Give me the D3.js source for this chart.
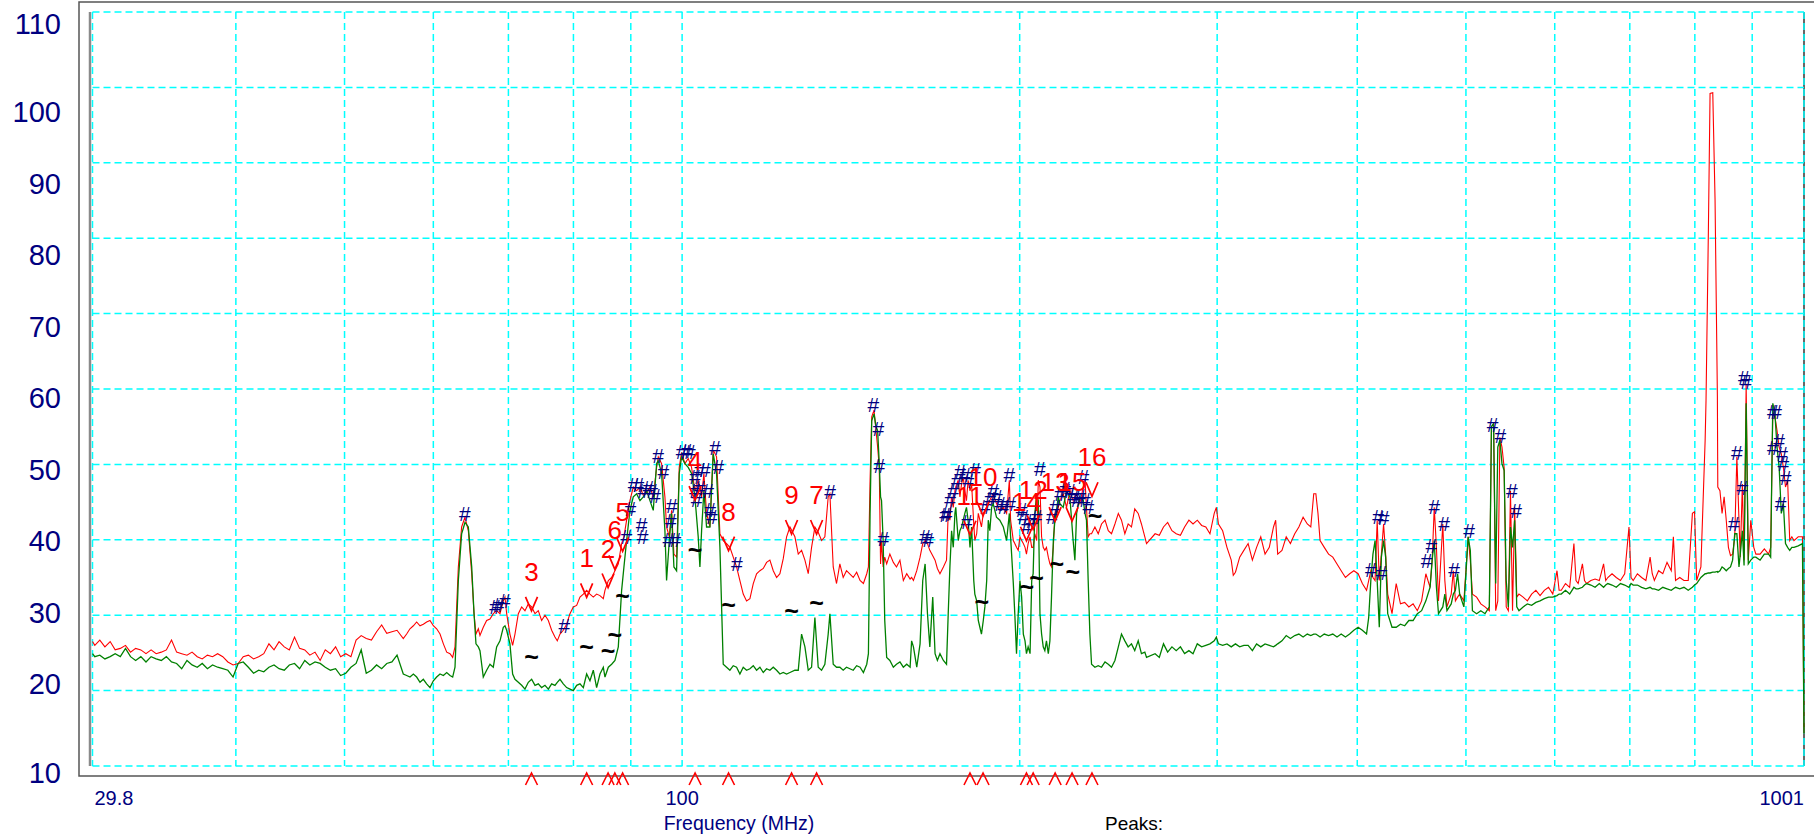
<!DOCTYPE html>
<html lang="en">
<head>
<meta charset="UTF-8">
<title>Emission scan</title>
<script src="https://d3js.org/d3.v7.min.js"></script>
<style>
  body { margin: 0; background: #fff; }
  svg { display: block; font-family: Arial, 'Liberation Sans', sans-serif; }
</style>
</head>
<body>
<script>
// ---- trace data: frequency (MHz), peak level (red) and quasi-peak level (green), dBuV
// 29.8 - 56 MHz
const freqA = [29.8,29.94,30.25,30.57,30.9,31.22,31.55,31.89,32.22,32.56,
  32.91,33.26,33.61,33.96,34.32,34.68,35.05,35.42,35.79,36.18,
  36.56,36.95,37.33,37.73,38.13,38.53,38.94,39.35,39.77,40.19,
  40.61,41.04,41.48,41.92,42.36,42.81,43.26,43.71,44.18,44.64,
  45.12,45.59,46.08,46.56,47.06,47.56,48.06,48.57,49.09,49.6,
  50.13,50.66,51.2,51.74,52.28,52.84,53.4,53.96,54.53,55.11,55.69];
const peakA = [26.5,26.0,26.7,25.8,26.5,25.4,25.6,26.0,25.1,25.6,
  25.4,24.9,25.4,24.9,25.1,25.4,26.7,25.1,24.9,24.7,
  25.1,24.5,24.2,24.7,24.5,24.9,24.5,23.8,23.4,23.6,
  24.5,24.7,24.2,24.5,24.9,26.2,25.4,26.5,25.8,25.4,
  27.1,25.6,25.4,24.7,25.1,24.0,25.4,24.9,25.8,24.5,
  24.9,24.5,26.7,27.3,26.9,26.7,27.8,28.7,27.6,27.8,28.0];
const qpA = [24.9,24.5,24.7,24.2,24.5,24.9,24.5,25.6,24.5,24.0,
  24.5,23.8,24.5,24.2,24.0,24.5,23.8,23.6,22.9,24.0,
  23.4,23.1,23.6,22.9,23.4,23.1,22.9,22.7,21.8,23.6,
  23.8,23.1,22.3,22.7,22.5,23.1,23.4,22.9,22.7,23.4,
  23.6,22.9,24.0,23.4,23.8,23.6,23.1,22.7,22.9,22.0,
  22.3,23.1,23.6,25.4,22.3,22.7,23.4,22.9,23.6,23.8,24.7];

// 56 - 141 MHz
const freqB = [56.41,56.8,57.19,57.59,57.98,58.38,58.78,59.18,59.59,60.0,
  60.41,60.83,61.25,61.67,62.09,62.43,62.73,63.16,63.59,64.03,
  64.47,64.92,65.23,65.49,65.81,66.03,66.48,66.94,67.4,67.86,
  68.33,68.8,69.27,69.51,69.75,70.22,70.61,70.95,71.44,71.93,
  72.42,72.92,73.42,73.93,74.43,74.94,75.46,75.98,76.5,77.02,
  77.39,77.82,78.35,78.89,79.43,79.98,80.53,81.08,81.64,82.2,
  82.76,83.33,83.9,84.48,85.06,85.35,85.94,86.53,87.12,87.72,
  88.32,88.74,89.23,89.84,90.46,91.08,91.71,92.34,92.97,93.61,
  94.25,94.9,95.22,95.88,96.53,96.86,97.4,97.86,98.33,98.87,
  99.41,99.89,100.57,101.26,101.96,102.66,103.36,103.72,104.08,104.57,
  105.15,105.87,106.6,107.33,108.07,108.81,109.56,110.31,111.07,111.83,
  112.6,113.37,114.15,114.94,115.73,116.52,117.32,118.13,118.94,119.75,
  120.58,121.41,122.24,123.08,123.93,124.78,126.06,126.93,127.8,128.68,
  129.56,130.45,131.34,132.24,133.15,134.06,134.98,135.45,136.38,137.31,
  138.25,139.2,140.15];
const peakB = [26.9,27.5,28.2,28.6,29.1,28.6,28.8,29.1,29.3,28.6,
  28.2,27.5,26.2,25.1,24.9,24.4,25.8,36.4,41.7,43.0,
  41.2,35.5,30.2,27.5,28.2,27.3,28.4,29.3,29.5,30.2,
  30.6,30.2,31.9,32.4,30.2,27.5,26.0,27.5,30.2,31.1,
  30.6,31.5,31.1,30.2,30.6,29.3,30.0,29.3,28.0,27.1,
  26.6,27.5,28.0,28.8,30.2,31.1,31.3,32.4,32.8,33.3,
  32.8,32.4,32.8,32.6,32.2,33.3,34.6,35.0,35.9,36.8,
  39.5,40.4,42.6,45.2,47.0,46.5,47.0,45.9,46.3,47.0,
  45.7,49.6,51.0,50.1,45.7,41.7,40.4,43.9,38.1,37.7,
  49.6,51.6,50.1,50.8,49.6,46.5,47.9,47.0,45.7,48.8,
  43.5,41.7,51.9,51.0,40.8,39.9,39.5,39.0,37.7,36.4,
  34.6,32.8,31.9,32.2,34.2,35.5,35.9,36.2,37.0,37.3,
  35.9,35.0,35.5,37.5,40.4,41.7,40.4,38.1,38.6,37.3,
  35.5,39.0,41.7,41.0,39.9,40.4,45.7,46.1,36.4,34.2,
  36.8,35.0,35.9];
const qpB = [22.2,22.0,21.8,22.2,21.8,21.1,21.5,20.9,20.4,21.3,
  21.8,22.2,22.0,22.4,22.0,21.8,23.1,34.6,40.8,42.3,
  41.7,36.4,30.2,26.2,25.8,25.3,21.8,22.7,23.5,23.1,
  25.8,26.6,28.4,28.6,28.0,26.2,22.2,21.5,21.1,20.7,
  20.2,21.1,21.5,20.7,20.9,20.4,20.7,20.2,20.9,20.7,
  21.1,21.5,20.9,20.4,20.2,20.0,20.7,20.9,20.4,22.2,
  21.3,22.7,20.4,22.2,23.1,21.8,23.1,23.5,24.0,25.8,
  33.3,36.4,39.9,43.9,45.7,46.1,45.2,45.7,46.5,45.2,
  43.9,50.1,50.5,48.8,41.2,34.6,39.9,43.5,36.4,35.9,
  48.8,51.0,50.1,49.6,48.8,45.7,40.4,36.4,41.2,46.5,
  41.7,41.7,51.4,48.8,39.0,23.5,23.1,22.7,23.3,23.1,
  22.2,23.1,22.7,22.9,23.3,22.7,23.1,22.4,22.9,22.7,
  23.1,22.7,22.2,22.4,22.2,22.4,22.7,22.7,27.5,25.8,
  22.7,23.1,29.7,23.1,22.7,23.5,27.5,30.2,23.5,23.1,
  23.1,22.7,23.1];

// 141 - 260 MHz
const freqC = [142.1,143.1,144.1,145.1,146.1,146.6,147.1,147.6,148.3,148.9,
  149.4,149.9,150.3,150.6,151.1,151.6,152.2,153.2,154.3,155.3,
  156.4,157.5,158.6,159.7,160.2,160.8,161.9,163.0,163.9,164.7,
  165.5,166.3,167.3,168.1,168.9,169.8,171.0,172.1,172.7,173.3,
  173.9,174.5,175.1,175.4,176.3,176.9,177.5,178.1,178.7,179.3,
  179.9,180.6,181.2,182.0,182.4,183.1,183.7,184.3,184.9,185.6,
  186.2,186.9,187.5,188.1,188.8,189.4,190.7,192.0,193.4,194.7,
  195.8,196.3,197.4,198.0,198.7,199.4,200.1,200.8,201.5,202.2,
  202.8,203.5,204.3,205.0,205.6,206.3,207.1,207.8,208.5,209.2,
  209.9,210.6,211.3,212.1,212.8,213.5,214.3,215.0,215.7,216.5,
  217.2,218.7,220.2,221.7,223.2,224.0,224.8,226.3,227.9,228.7,
  229.4,230.2,231.0,231.8,233.4,235.0,236.6,238.3,239.9,241.5,
  243.2,244.9,246.5,248.2,249.9,251.6,253.3,255.1,256.8,258.6,259.5];
const peakC = [35.0,35.7,34.6,34.2,35.5,36.4,47.9,56.3,57.2,54.5,
  52.3,49.6,36.8,39.9,36.4,37.7,36.8,38.1,37.0,36.4,
  37.3,34.6,35.5,34.8,35.0,34.6,35.9,37.7,39.5,39.9,
  39.5,38.6,37.9,37.3,36.2,35.5,36.4,37.3,43.5,42.6,
  45.7,44.3,46.5,47.0,47.9,45.7,47.4,48.3,46.5,45.2,
  47.9,46.5,47.4,42.1,39.9,40.8,43.5,42.6,41.7,43.5,
  43.9,44.3,44.8,45.2,45.7,46.1,44.8,43.9,44.3,43.5,
  47.9,42.6,39.9,39.5,39.0,38.6,40.4,39.9,39.5,39.0,
  38.1,39.5,40.4,39.0,39.0,40.8,39.9,47.9,47.0,40.4,
  39.0,38.6,39.0,37.7,36.8,36.4,39.0,43.5,43.0,44.3,
  45.2,46.1,44.3,46.5,45.2,45.7,46.1,44.8,47.0,47.9,
  44.3,40.4,40.8,40.8,41.7,40.8,42.1,42.6,41.2,40.8,
  42.1,43.5,42.6,40.8,42.1,41.7,44.1,43.5,42.1,40.4,39.5];
const qpC = [22.7,23.3,23.1,22.4,23.5,24.9,43.5,55.8,56.7,55.0,
  54.5,50.1,45.7,45.2,39.9,29.3,24.4,24.0,23.1,23.5,
  23.8,23.1,23.5,23.1,26.6,25.8,23.1,26.2,34.6,36.8,
  30.2,25.8,32.4,24.9,24.0,24.9,24.0,23.5,30.2,36.4,
  41.2,39.0,43.5,44.3,39.9,41.2,41.7,42.6,43.5,44.3,
  42.6,39.0,41.7,34.6,32.8,31.9,29.3,28.4,27.5,29.3,
  31.1,34.6,42.6,41.2,44.3,44.8,43.0,42.6,41.7,39.9,
  43.5,40.4,34.2,30.2,24.9,30.2,34.6,32.4,27.5,26.6,
  24.9,25.8,24.9,34.6,35.5,43.5,45.7,45.2,30.2,27.5,
  25.8,25.3,26.6,24.9,26.6,32.4,39.9,42.6,43.9,45.7,
  44.8,44.3,46.5,45.7,39.9,37.3,43.5,45.7,45.2,43.5,
  42.6,34.6,27.5,23.5,23.1,23.3,23.1,23.8,23.5,23.1,
  24.0,25.8,27.5,26.6,25.8,26.2,25.3,26.6,24.9,25.1,24.4];

// 260 - 1001 MHz
const freqD = [264.1,266.4,268.7,271.0,273.4,275.8,278.2,280.6,283.1,285.5,
  288.0,290.6,293.1,295.6,298.2,299.5,300.8,303.4,306.1,308.8,
  310.1,311.5,314.2,316.9,319.7,322.5,325.3,328.1,331.0,333.9,
  336.8,338.3,339.7,342.7,345.7,348.7,351.8,354.8,357.9,361.0,
  363.6,365.8,367.4,369.0,370.6,373.8,377.1,380.4,383.7,387.0,
  390.4,393.8,397.2,400.7,404.2,407.7,409.5,411.3,413.1,414.9,
  416.7,418.5,420.3,422.2,424.0,425.8,429.6,433.3,437.1,440.9,
  444.7,448.6,452.5,456.5,460.5,464.5,466.5,468.5,470.6,472.6,
  476.8,478.8,480.9,485.1,487.2,489.3,491.5,493.6,497.9,502.3,
  504.5,506.7,511.1,515.5,520.0,524.6,526.9,529.2,531.5,533.8,
  536.1,538.4,540.8,543.1,545.5,547.9,550.2,552.6,555.0,557.5,
  562.3,567.2,572.2,577.2,582.2,587.3,592.4,597.6,602.8,605.4,
  608.1,613.4,618.7,624.1,626.8,629.6,635.1,637.8,640.6,646.2,
  651.8,657.5,663.3,666.2,669.1,674.9,680.8,686.7,692.7,698.8,
  701.8,704.9,711.0,717.2,723.5,729.8,733.0,736.2,742.6,749.1,
  755.6,762.2,765.5,768.9,775.6,782.3,789.2,796.0,799.5,803.0,
  810.0,817.1,818.6,822.5,825.4,830.0,833.9,837.9,838.6,842.3,
  846.0,849.6,853.3,857.1,860.8,864.5,868.3,872.1,875.9,878.2,
  882.0,885.1,888.9,892.8,897.4,902.9,906.8,914.7,922.7,930.8,
  934.8,938.9,943.0,947.1,951.2,955.4,959.5,963.7,967.9,972.1,
  976.3,980.6,989.2,997.8,1001];
const peakD = [40.8,40.6,41.7,42.3,41.2,40.8,40.6,41.7,42.6,42.1,
  42.6,41.9,41.7,40.8,43.5,44.3,42.1,41.2,39.0,37.3,
  35.3,35.7,37.7,38.6,39.5,37.3,39.0,40.4,38.1,39.0,
  41.7,42.6,38.1,38.6,40.4,39.5,40.8,41.7,43.0,42.1,
  41.7,46.1,46.1,43.5,39.9,39.0,38.1,37.7,36.8,35.9,
  35.0,35.5,35.9,35.5,34.2,33.3,34.6,35.9,35.0,34.6,
  42.6,34.6,38.1,42.1,38.1,32.8,30.2,34.2,31.5,31.7,
  31.1,31.5,30.6,31.9,35.5,33.7,37.3,44.3,39.0,31.9,
  42.1,34.6,31.1,32.8,35.9,31.9,32.4,32.8,31.9,40.4,
  37.3,32.8,32.4,31.5,31.1,30.6,55.0,55.4,30.6,31.9,
  53.6,52.3,49.6,31.1,30.6,46.5,30.6,44.3,32.4,32.8,
  32.4,31.9,32.8,33.3,32.6,33.3,33.7,32.8,35.9,33.3,
  33.3,34.2,33.7,39.5,34.6,34.2,36.8,34.6,34.2,34.6,
  34.8,34.6,36.8,34.6,35.0,35.5,35.0,34.6,35.5,41.7,
  35.0,34.6,35.5,35.0,34.6,37.7,35.5,34.6,35.9,35.5,
  37.0,35.9,40.4,34.6,35.0,34.6,34.6,43.5,43.7,34.6,
  36.4,53.2,58.5,80.7,99.2,99.3,85.1,59.0,47.0,46.5,
  43.5,45.7,42.6,39.0,37.9,38.1,40.4,51.0,42.6,37.7,
  47.4,37.3,60.7,37.3,42.6,39.0,38.1,38.1,38.8,38.1,
  39.0,56.9,56.3,54.5,52.3,51.4,49.6,47.0,47.9,39.9,
  40.4,39.9,40.4,40.4,14.3];
const qpD = [24.9,24.4,26.2,25.1,25.8,25.3,25.8,24.9,25.3,24.9,
  26.2,25.8,26.0,26.2,26.6,27.1,26.2,26.0,26.2,25.8,
  26.0,26.2,25.8,26.0,26.0,25.3,26.2,25.8,26.2,26.0,
  25.8,26.0,26.2,26.6,27.3,26.9,27.3,27.5,27.1,27.5,
  27.3,27.5,27.5,27.3,27.1,27.5,27.3,27.5,27.1,27.5,
  27.1,27.5,28.0,28.4,28.0,27.5,29.7,34.6,38.1,39.9,
  34.6,28.4,37.7,39.9,37.7,30.2,28.4,28.4,28.8,28.6,
  29.3,29.3,30.2,30.6,31.9,33.7,37.3,39.9,33.7,30.2,
  31.1,32.8,30.6,31.5,32.8,33.3,35.5,32.8,31.1,40.4,
  38.6,30.6,30.2,30.6,30.2,31.1,55.0,55.4,34.2,52.3,
  53.2,50.1,49.2,34.6,31.1,41.7,39.0,42.6,31.1,30.6,
  31.1,31.5,31.3,31.7,31.9,32.2,32.4,32.4,32.6,32.8,
  32.8,33.3,32.8,33.7,33.5,33.5,33.7,34.0,34.2,34.0,
  33.7,34.2,33.7,34.0,34.2,34.0,33.7,34.2,34.0,33.7,
  34.2,34.0,34.0,33.7,33.5,33.7,33.5,33.5,33.3,33.7,
  33.5,33.3,33.5,33.7,33.5,33.7,33.3,33.7,34.0,34.2,
  35.0,35.5,35.5,35.6,35.6,35.7,35.7,35.8,35.7,35.9,
  36.4,36.2,35.9,36.2,36.4,37.3,40.8,40.8,36.4,38.1,
  41.2,36.6,58.1,36.8,37.3,37.7,37.7,37.3,38.1,38.1,
  37.7,58.1,56.7,52.3,49.6,43.5,44.8,39.5,39.0,38.6,
  39.0,39.0,39.2,39.5,14.3];

// ---- peak-search hits ("#")
const hashFreq = [64.0,68.1,68.6,69.5,78.5,89.2,89.9,90.5,91.4,92.3,
  93.3,94.0,94.6,92.0,92.2,95.2,96.2,97.9,97.7,97.2,
  98.6,99.9,100.9,101.6,102.7,103.7,104.8,102.7,103.7,105.5,
  105.9,106.3,103.0,107.0,107.7,111.9,135.5,148.1,149.6,149.9,
  151.2,164.7,165.7,172.2,171.6,173.4,174.5,175.8,177.0,178.8,
  180.0,182.5,179.4,186.3,188.2,189.5,190.8,192.1,193.4,195.8,
  196.1,200.8,201.5,202.9,205.0,207.1,208.5,213.6,215.1,217.3,
  219.5,221.8,223.3,224.8,226.4,227.9,228.7,230.3,417.4,422.2,
  411.3,420.2,468.5,478.0,465.7,461.2,488.0,503.2,528.2,536.6,
  549.3,554.2,872.2,866.9,882.1,884.5,889.0,938.9,945.2,938.9,
  951.3,956.8,959.6,963.8,953.8];
const hashLevel = [43.5,31.1,31.4,32.0,28.7,40.4,44.2,47.3,47.3,46.6,
  47.0,46.6,45.9,42.0,40.4,51.2,49.0,44.6,42.6,40.0,
  40.0,51.7,51.9,51.7,48.4,49.3,49.3,46.6,47.0,46.6,
  44.0,43.1,45.3,52.3,49.7,36.9,46.4,57.9,54.8,49.9,
  40.2,40.4,40.0,43.5,43.3,45.3,46.6,47.9,49.0,48.6,
  47.9,49.3,42.4,44.4,45.5,46.6,45.7,44.8,44.4,48.6,
  44.8,44.0,43.1,41.7,42.6,43.1,49.5,43.1,44.4,46.2,
  46.8,46.6,45.7,45.3,45.9,48.4,45.3,44.4,43.1,42.9,
  36.0,35.6,44.4,42.2,39.3,37.2,36.1,41.2,55.3,53.8,
  46.6,43.9,51.6,42.2,47.0,61.5,61.0,57.0,57.0,52.3,
  53.2,51.5,50.1,48.2,44.8];

// ---- numbered final measurements
const markerNo = [1,2,3,4,5,6,7,8,9,10,11,12,13,14,15,16];
const markerFreq = [82.2,85.9,73.4,102.7,88.5,87.1,131.8,110.0,125.2,185.5,180.6,205.6,215.1,202.8,222.7,232.0];
const markerLevel = [33.3,34.6,31.5,46.2,39.4,37.0,41.7,39.5,41.7,44.1,41.6,42.3,43.4,40.8,43.4,46.7];

// ---- quasi-peak readings ("~")
const qpMarkFreq = [73.4,82.2,85.9,87.1,88.5,102.7,110.0,125.2,131.8,185.0,202.9,207.1,215.8,223.0,233.5];
const qpMarkLevel = [24.5,25.8,25.2,27.4,32.5,38.7,31.3,30.6,31.6,31.7,33.7,35.0,36.8,35.7,43.1];

// ---- axes
const yTicks = [10,20,30,40,50,60,70,80,90,100,110];
const xGrid = [29.8,40,50,60,70,80,90,100,200,300,400,500,600,700,800,900,1001];
const xLabels = [29.8,100,1001];

const W = 1814, H = 834;
const margin = { top: 12, right: 10, bottom: 68, left: 92.5 };

const x = d3.scaleLog().domain([29.8, 1001]).range([margin.left, W - margin.right]);
const y = d3.scaleLinear().domain([10, 110]).range([H - margin.bottom, margin.top]);
// level labels are printed on their own spacing, not on the grid lines
const yLab = d3.scaleLinear().domain([10, 20, 100, 110]).range([773, 684, 112, 24]);

const rows = d3.merge([freqA, freqB, freqC, freqD]).map(f => ({ f }));
const pk = d3.merge([peakA, peakB, peakC, peakD]);
const qp = d3.merge([qpA, qpB, qpC, qpD]);
rows.forEach((r, i) => { r.pk = pk[i]; r.qp = qp[i]; });

const svg = d3.select("body").append("svg")
    .attr("width", W)
    .attr("height", H);

// outer frame
svg.append("path")
    .attr("d", `M${W},2 H79 V776 H${W}`)
    .attr("fill", "none")
    .attr("stroke", "#555")
    .attr("stroke-width", 1.5);

// left / right plot edges
svg.append("line")
    .attr("x1", x(29.8) - 2.5).attr("x2", x(29.8) - 2.5)
    .attr("y1", y(110)).attr("y2", y(10))
    .attr("stroke", "#8a8a8a").attr("stroke-width", 2.5);
svg.append("line")
    .attr("x1", x(1001)).attr("x2", x(1001))
    .attr("y1", y(110)).attr("y2", y(10))
    .attr("stroke", "#333").attr("stroke-width", 1.5);

// grid
const grid = svg.append("g")
    .attr("stroke", "#00ffff")
    .attr("stroke-width", 1.5)
    .attr("stroke-dasharray", "7,4");
grid.selectAll(".h").data(yTicks).join("line")
    .attr("x1", x(29.8)).attr("x2", x(1001))
    .attr("y1", d => y(d)).attr("y2", d => y(d));
grid.selectAll(".v").data(xGrid).join("line")
    .attr("x1", d => x(d)).attr("x2", d => x(d))
    .attr("y1", y(110)).attr("y2", y(10));

// y labels
svg.append("g").selectAll("text").data(yTicks).join("text")
    .attr("x", 61)
    .attr("y", d => yLab(d))
    .attr("text-anchor", "end")
    .attr("dominant-baseline", "central")
    .attr("font-size", 29)
    .attr("fill", "#000080")
    .text(d => d);

// x labels
svg.append("g").selectAll("text").data(xLabels).join("text")
    .attr("x", (d, i) => i === 0 ? x(d) + 2 : x(d))
    .attr("y", 798)
    .attr("text-anchor", (d, i) => i === 0 ? "start" : (i === xLabels.length - 1 ? "end" : "middle"))
    .attr("dominant-baseline", "central")
    .attr("font-size", 20)
    .attr("fill", "#000080")
    .text(d => d);

svg.append("text")
    .attr("x", 739).attr("y", 823)
    .attr("text-anchor", "middle")
    .attr("dominant-baseline", "central")
    .attr("font-size", 19.5)
    .attr("fill", "#000080")
    .text("Frequency (MHz)");

svg.append("text")
    .attr("x", 1105).attr("y", 823)
    .attr("dominant-baseline", "central")
    .attr("font-size", 19)
    .attr("fill", "#000")
    .text("Peaks:");

// traces
const peakLine = d3.line().x(d => x(d.f)).y(d => y(d.pk));
const qpLine = d3.line().x(d => x(d.f)).y(d => y(d.qp));

svg.append("path")
    .datum(rows)
    .attr("fill", "none")
    .attr("stroke", "#ff0000")
    .attr("stroke-width", 1.1)
    .attr("d", peakLine);

svg.append("path")
    .datum(rows)
    .attr("fill", "none")
    .attr("stroke", "#008000")
    .attr("stroke-width", 1.3)
    .attr("d", qpLine);

// quasi-peak readings
svg.append("g").selectAll("text").data(qpMarkFreq).join("text")
    .attr("x", d => x(d))
    .attr("y", (d, i) => y(qpMarkLevel[i]))
    .attr("text-anchor", "middle")
    .attr("dominant-baseline", "central")
    .attr("font-size", 25)
    .attr("font-weight", "bold")
    .attr("fill", "#000")
    .text("~");

// peak hits
svg.append("g").selectAll("text").data(hashFreq).join("text")
    .attr("x", d => x(d))
    .attr("y", (d, i) => y(hashLevel[i]))
    .attr("text-anchor", "middle")
    .attr("dominant-baseline", "central")
    .attr("font-size", 21)
    .attr("fill", "#000080")
    .text("#");

// numbered markers: "v" on the trace, number above, "^" under the axis
const mk = svg.append("g");
mk.selectAll("path.v").data(markerFreq).join("path")
    .attr("class", "v")
    .attr("transform", (d, i) => `translate(${x(d)},${y(markerLevel[i])})`)
    .attr("d", "M-6,-7L0,7L6,-7")
    .attr("fill", "none")
    .attr("stroke", "#ff0000")
    .attr("stroke-width", 1.7);
mk.selectAll("text").data(markerFreq).join("text")
    .attr("x", d => x(d))
    .attr("y", (d, i) => y(markerLevel[i]) - 32)
    .attr("text-anchor", "middle")
    .attr("dominant-baseline", "central")
    .attr("font-size", 26)
    .attr("fill", "#ff0000")
    .text((d, i) => markerNo[i]);
mk.selectAll("path.up").data(markerFreq).join("path")
    .attr("class", "up")
    .attr("transform", d => `translate(${x(d)},773)`)
    .attr("d", "M-6,12L0,0L6,12")
    .attr("fill", "none")
    .attr("stroke", "#ff0000")
    .attr("stroke-width", 1.6);
</script>
</body>
</html>
